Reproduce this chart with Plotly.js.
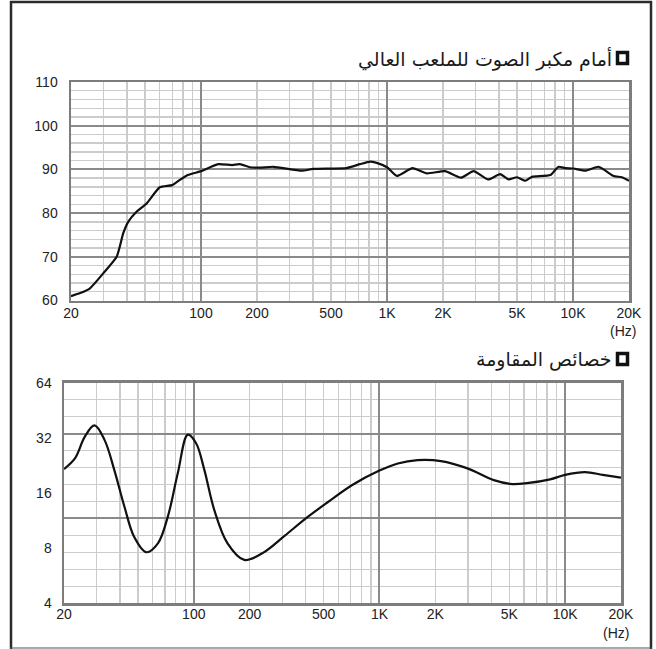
<!DOCTYPE html>
<html><head><meta charset="utf-8">
<script src="https://cdn.plot.ly/plotly-3.0.1.min.js"></script>
<style>html,body{margin:0;padding:0;background:#fff}#chart{width:656px;height:649px}</style>
</head><body><div id="chart"></div>
<script>
const W = 656, H = 649;

// Frequency response (dB) – top chart
const responseFreq = [20, 22.4, 25.3, 29.8, 35.2, 38.2, 40.6, 45, 51, 60, 70, 77, 85, 100, 112, 124, 147, 162, 183, 207, 245, 348, 400, 606, 716, 810, 880, 1000, 1130, 1370, 1640, 2050, 2500, 2920, 3500, 4060, 4500, 5000, 5540, 6020, 7550, 8360, 9080, 10070, 11650, 13730, 16530, 18270, 20000];
const responseDb   = [61.0, 61.7, 62.8, 66.2, 70.0, 75.4, 78.0, 80.3, 82.2, 85.9, 86.4, 87.6, 88.7, 89.6, 90.5, 91.2, 91.0, 91.2, 90.5, 90.4, 90.6, 89.7, 90.1, 90.3, 91.2, 91.8, 91.5, 90.5, 88.5, 90.3, 89.1, 89.6, 88.1, 89.6, 87.7, 88.9, 87.7, 88.2, 87.4, 88.3, 88.7, 90.6, 90.3, 90.2, 89.7, 90.6, 88.5, 88.2, 87.4];

// Impedance (ohm) – bottom chart
const impedanceFreq = [20, 22.9, 25.9, 29.2, 33.1, 37.3, 42.3, 47.7, 55.5, 64.1, 72.5, 82, 92.9, 102.9, 114, 129, 152, 187, 234, 307, 400, 524, 714, 1000, 1255, 1607, 2145, 2980, 4130, 5180, 6225, 8300, 10000, 12800, 15950, 20000];
const impedanceOhm  = [21.6, 24.7, 32.5, 37.4, 31.1, 21.4, 13.5, 9.24, 7.6, 8.5, 11.9, 20.5, 33.3, 29.9, 21.4, 12.9, 8.5, 6.9, 7.5, 9.3, 11.6, 14.2, 17.7, 21.2, 23.2, 24.2, 23.9, 21.8, 18.8, 17.9, 18.1, 19.0, 20.1, 20.8, 20.1, 19.4];

// Tick labels
const freqTickVals = [20, 100, 200, 500, 1000, 2000, 5000, 10000, 20000];
const freqTickText = ['20', '100', '200', '500', '1K', '2K', '5K', '10K', '20K'];
const dbTickVals   = [60, 70, 80, 90, 100, 110];
const ohmTickVals  = [4, 8, 16, 32, 64];
const ohmTickText  = ['4', '8', '16', '32', '64'];
const decadeGrid   = [100, 1000, 10000];
const minorFreqGrid = [30, 40, 50, 60, 70, 80, 90, 200, 300, 400, 500, 600, 700, 800, 900,
                       2000, 3000, 4000, 5000, 6000, 7000, 8000, 9000];

const titleTop = 'أمام مكبر الصوت للملعب العالي';
const titleBottom = 'خصائص المقاومة';
const unitText = '(Hz)';

const px = x => x / W;
const py = y => 1 - y / H;

const DARK = '#8a8a8a', LIGHT = '#cccccc', BORDER = '#7d7d7d';
const tickFont = {family: 'Liberation Sans, Arial, sans-serif', size: 14, color: '#222'};
const titleFont = {family: 'DejaVu Sans, sans-serif', size: 19, color: '#1a1a1a'};
const fRange = [Math.log10(20), Math.log10(20000)];

function gridX(domain, anchor) {
  return {type: 'log', domain: domain, range: fRange, anchor: anchor,
    tickmode: 'array', tickvals: decadeGrid, showticklabels: false, ticks: '',
    showgrid: true, gridcolor: DARK, gridwidth: 2,
    minor: {tickmode: 'array', tickvals: minorFreqGrid, showgrid: true, gridcolor: LIGHT, gridwidth: 1.4, ticks: ''},
    showline: true, mirror: true, linecolor: BORDER, linewidth: 2.5, zeroline: false, fixedrange: true};
}
function labelX(over, anchor, standoff) {
  return {type: 'log', overlaying: over, anchor: anchor, range: fRange,
    tickmode: 'array', tickvals: freqTickVals, ticktext: freqTickText,
    showgrid: false, ticks: '', ticklabelstandoff: standoff,
    tickfont: tickFont, showline: false, zeroline: false, fixedrange: true};
}

const layout = {
  width: W, height: H,
  margin: {l: 0, r: 0, t: 0, b: 0},
  paper_bgcolor: '#fff', plot_bgcolor: '#fff',
  showlegend: false,
  xaxis: gridX([px(71), px(629)], 'y'),
  xaxis3: labelX('x', 'y', 2),
  yaxis: {domain: [py(300.5), py(82)], range: [60, 110], anchor: 'x',
    tickmode: 'array', tickvals: dbTickVals,
    showgrid: true, gridcolor: DARK, gridwidth: 2,
    minor: {tickmode: 'linear', tick0: 60, dtick: 2, showgrid: true, gridcolor: LIGHT, gridwidth: 1.4, ticks: ''},
    ticks: 'outside', ticklen: 8, tickcolor: 'rgba(0,0,0,0)', tickfont: tickFont,
    showline: true, mirror: true, linecolor: BORDER, linewidth: 2.5, zeroline: false, fixedrange: true},
  xaxis2: gridX([px(64), px(621)], 'y2'),
  xaxis4: labelX('x2', 'y2', 1),
  yaxis2: {type: 'log', domain: [py(603.3), py(382.7)], range: [Math.log10(4), Math.log10(64)], anchor: 'x2',
    tickmode: 'array', tickvals: ohmTickVals, ticktext: ohmTickText, showgrid: false,
    ticks: 'outside', ticklen: 7, tickcolor: 'rgba(0,0,0,0)', tickfont: tickFont,
    showline: true, mirror: true, linecolor: BORDER, linewidth: 2.5, zeroline: false, fixedrange: true},
  yaxis3: {overlaying: 'y2', anchor: 'x2', range: [0, 13],
    tickmode: 'linear', tick0: 0, dtick: 5, showticklabels: false, ticks: '',
    showgrid: true, gridcolor: DARK, gridwidth: 2,
    minor: {tickmode: 'linear', tick0: 0, dtick: 1, showgrid: true, gridcolor: LIGHT, gridwidth: 1.4, ticks: ''},
    showline: false, zeroline: false, fixedrange: true},
  annotations: [
    {xref: 'paper', yref: 'paper', x: px(614), y: py(59), xanchor: 'right', yanchor: 'middle',
     text: titleTop, showarrow: false, font: titleFont},
    {xref: 'paper', yref: 'paper', x: px(614), y: py(359), xanchor: 'right', yanchor: 'middle',
     text: titleBottom, showarrow: false, font: titleFont},
    {xref: 'paper', yref: 'paper', x: px(623), y: py(331), xanchor: 'center', yanchor: 'middle',
     text: unitText, showarrow: false, font: tickFont},
    {xref: 'paper', yref: 'paper', x: px(616), y: py(633), xanchor: 'center', yanchor: 'middle',
     text: unitText, showarrow: false, font: tickFont}
  ],
  shapes: [
    {type: 'rect', xref: 'paper', yref: 'paper', x0: px(617.5), x1: px(627.5), y0: py(52.5), y1: py(63.5),
     line: {color: '#111', width: 3.5}, fillcolor: '#fff'},
    {type: 'rect', xref: 'paper', yref: 'paper', x0: px(617.5), x1: px(627.5), y0: py(353.5), y1: py(364.5),
     line: {color: '#111', width: 3.5}, fillcolor: '#fff'},
    {type: 'line', xref: 'paper', yref: 'paper', x0: px(11), x1: px(11), y0: py(1), y1: py(649), line: {color: '#2b2b2b', width: 2.5}},
    {type: 'line', xref: 'paper', yref: 'paper', x0: px(10), x1: px(652), y0: py(2), y1: py(2), line: {color: '#2b2b2b', width: 2.5}},
    {type: 'line', xref: 'paper', yref: 'paper', x0: px(651), x1: px(651), y0: py(1), y1: py(649), line: {color: '#2b2b2b', width: 2.5}},
    {type: 'line', xref: 'paper', yref: 'paper', x0: px(10), x1: px(652), y0: py(648), y1: py(648), line: {color: '#555', width: 1.2}}
  ]
};

const data = [
  {x: responseFreq, y: responseDb, xaxis: 'x', yaxis: 'y', mode: 'lines', hoverinfo: 'skip',
   line: {color: '#111', width: 2.2, shape: 'spline', smoothing: 0.5}},
  {x: impedanceFreq, y: impedanceOhm, xaxis: 'x2', yaxis: 'y2', mode: 'lines', hoverinfo: 'skip',
   line: {color: '#111', width: 2.2, shape: 'spline', smoothing: 1}},
  {x: [], y: [], xaxis: 'x3', yaxis: 'y', mode: 'lines', hoverinfo: 'skip'},
  {x: [], y: [], xaxis: 'x4', yaxis: 'y2', mode: 'lines', hoverinfo: 'skip'},
  {x: [], y: [], xaxis: 'x2', yaxis: 'y3', mode: 'lines', hoverinfo: 'skip'}
];

Plotly.newPlot('chart', data, layout, {staticPlot: true, displayModeBar: false});
</script></body></html>
